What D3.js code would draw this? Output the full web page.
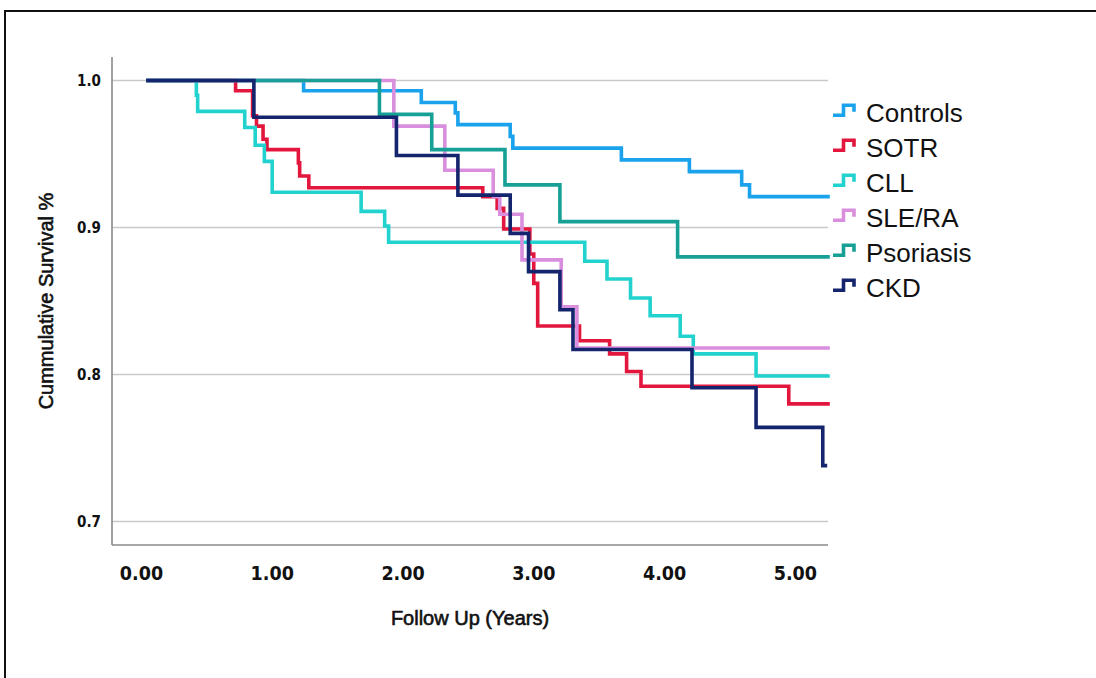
<!DOCTYPE html>
<html>
<head>
<meta charset="utf-8">
<script src="https://cdn.jsdelivr.net/npm/d3@7"></script>
<style>
  body { margin: 0; background: #fff; }
  svg { display: block; }
</style>
</head>
<body>
<svg id="chart" width="1096" height="678"></svg>
<script>
// ---- data ----
const seriesNames = ["Controls", "SOTR", "CLL", "SLE/RA", "Psoriasis", "CKD"];
const controls = [[0,1],[1.19,0.993],[2.09,0.985],[2.35,0.978],[2.37,0.970],[2.77,0.962],[2.79,0.954],[3.62,0.946],[4.14,0.938],[4.54,0.929],[4.60,0.921],[5.20,0.921]];
const sotr = [[0,1],[0.67,0.993],[0.80,0.976],[0.83,0.969],[0.88,0.960],[0.91,0.953],[1.15,0.944],[1.16,0.935],[1.23,0.927],[2.56,0.921],[2.67,0.913],[2.72,0.899],[2.92,0.882],[2.95,0.862],[2.98,0.833],[3.30,0.823],[3.53,0.814],[3.66,0.802],[3.77,0.792],[4.90,0.780],[5.20,0.780]];
const cll = [[0,1],[0.37,0.990],[0.38,0.979],[0.74,0.968],[0.82,0.956],[0.89,0.945],[0.95,0.924],[1.63,0.911],[1.81,0.901],[1.84,0.890],[3.34,0.877],[3.51,0.865],[3.69,0.852],[3.84,0.840],[4.07,0.826],[4.17,0.814],[4.65,0.799],[5.20,0.799]];
const sleRa = [[0,1],[1.88,0.969],[2.27,0.939],[2.64,0.921],[2.69,0.909],[2.86,0.878],[3.16,0.846],[3.28,0.818],[5.20,0.818]];
const psoriasis = [[0,1],[1.77,0.977],[2.17,0.953],[2.73,0.929],[3.15,0.904],[4.05,0.880],[5.20,0.880]];
const ckd = [[0,1],[0.81,0.975],[1.90,0.949],[2.37,0.922],[2.77,0.896],[2.91,0.870],[3.15,0.844],[3.25,0.817],[4.16,0.791],[4.65,0.764],[5.16,0.738],[5.18,0.738]];
const xTicks = [0, 1, 2, 3, 4, 5];
const xTickLabels = ["0.00", "1.00", "2.00", "3.00", "4.00", "5.00"];
const yTicks = [0.7, 0.8, 0.9, 1.0];
const yTickLabels = ["0.7", "0.8", "0.9", "1.0"];
const xTitle = "Follow Up (Years)";
const yTitle = "Cummulative Survival %";

// ---- styles ----
const colors = ["#1aa3ec", "#e3173e", "#22d2cf", "#d98fdd", "#17a096", "#14246d"];

const allSeries = [controls, sotr, cll, sleRa, psoriasis, ckd];

const svg = d3.select("#chart");
svg.append("rect").attr("x", 0).attr("y", 0).attr("width", 1096).attr("height", 678).attr("fill", "#fff");
// outer frame
svg.append("rect").attr("x", 5).attr("y", 11).attr("width", 1200).attr("height", 800)
  .attr("fill", "none").attr("stroke", "#111").attr("stroke-width", 2);

const x = d3.scaleLinear().domain([-0.275, 5.2]).range([112, 828]);
const y = d3.scaleLinear().domain([0.684, 1.016]).range([545, 57]);

// gridlines
svg.append("g").selectAll("line").data(yTicks).join("line")
  .attr("x1", x.range()[0]).attr("x2", x.range()[1])
  .attr("y1", d => y(d)).attr("y2", d => y(d))
  .attr("stroke", "#c9c9c9").attr("stroke-width", 1.6);

// axes lines
svg.append("line").attr("x1", 112).attr("x2", 112).attr("y1", y.range()[1]).attr("y2", y.range()[0])
  .attr("stroke", "#8a8a8a").attr("stroke-width", 1.6);
svg.append("line").attr("x1", x.range()[0]).attr("x2", x.range()[1]).attr("y1", 545).attr("y2", 545)
  .attr("stroke", "#8a8a8a").attr("stroke-width", 1.6);

// x tick labels via axis
const xAxis = d3.axisBottom(x).tickValues(xTicks).tickSize(0).tickFormat((d, i) => xTickLabels[i]);
const gx = svg.append("g").attr("transform", "translate(0,545)").call(xAxis);
gx.select(".domain").remove();
gx.selectAll("text")
  .attr("dx", -7).attr("dy", 0).attr("y", 35)
  .attr("font-family", "DejaVu Sans Condensed, DejaVu Sans").attr("font-weight", "bold")
  .attr("font-size", 19.5).attr("fill", "#111");

// y tick labels via axis
const yAxis = d3.axisLeft(y).tickValues(yTicks).tickSize(0).tickFormat((d, i) => yTickLabels[i]);
const gy = svg.append("g").attr("transform", "translate(112,0)").call(yAxis);
gy.select(".domain").remove();
gy.selectAll("text")
  .attr("x", -11)
  .attr("font-family", "DejaVu Sans Condensed, DejaVu Sans").attr("font-weight", "bold")
  .attr("font-size", 15).attr("fill", "#111");

// step lines
const line = d3.line().curve(d3.curveStepAfter).x(d => x(d[0])).y(d => y(d[1]));
svg.append("g").selectAll("path").data(allSeries).join("path")
  .attr("d", d => line(d))
  .attr("fill", "none")
  .attr("stroke", (d, i) => colors[i])
  .attr("stroke-width", 3.6)
  .attr("stroke-linejoin", "miter")
  .attr("stroke-linecap", "square");

// axis titles
svg.append("text").attr("x", 470).attr("y", 625).attr("text-anchor", "middle")
  .attr("font-family", "Liberation Sans, Arial, sans-serif")
  .attr("font-size", 20).attr("fill", "#111").attr("stroke", "#111").attr("stroke-width", 0.6)
  .text(xTitle);
svg.append("text").attr("transform", "translate(53,301) rotate(-90)").attr("text-anchor", "middle")
  .attr("font-family", "Liberation Sans, Arial, sans-serif")
  .attr("font-size", 20).attr("fill", "#111").attr("stroke", "#111").attr("stroke-width", 0.6)
  .text(yTitle);

// legend
const legend = svg.append("g").selectAll("g").data(seriesNames).join("g")
  .attr("transform", (d, i) => `translate(0,${113.3 + 35 * i})`);
legend.append("path")
  .attr("d", "M833,2 H843.5 V-8 H854 V-1.5")
  .attr("fill", "none").attr("stroke", (d, i) => colors[i]).attr("stroke-width", 3.6);
legend.append("text")
  .attr("x", 866).attr("y", 9)
  .attr("font-family", "Liberation Sans, Arial, sans-serif")
  .attr("font-size", 26).attr("fill", "#111")
  .text(d => d);
</script>
</body>
</html>
